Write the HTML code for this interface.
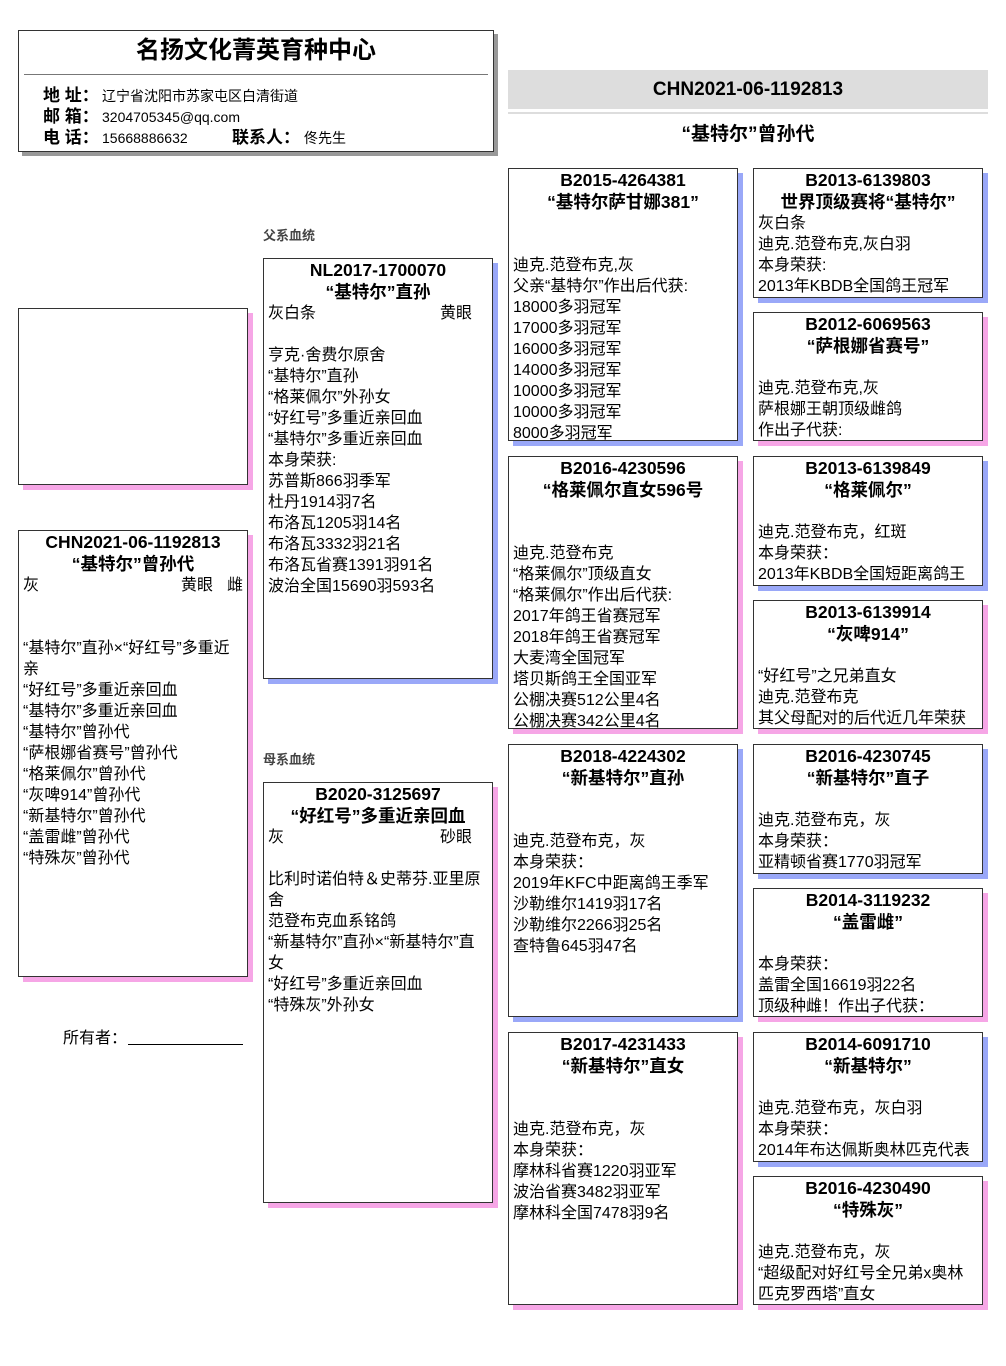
<!DOCTYPE html>
<html><head><meta charset="utf-8"><style>
*{margin:0;padding:0;box-sizing:border-box}
body{width:1006px;height:1366px;background:#fff;position:relative;font-family:"Liberation Sans","Noto Sans CJK SC",sans-serif;color:#000;overflow:hidden}
.a{position:absolute}
.box{position:absolute;border:1px solid #333;background:#fff;padding:0 4px;overflow:hidden}
.b{box-shadow:5px 5px 0 #9aa8f8}
.p{box-shadow:5px 5px 0 #f6a6e6}
.t{font-weight:bold;font-size:17.5px;line-height:22px;text-align:center;white-space:nowrap}
.l{font-size:16px;line-height:21px;white-space:nowrap;height:21px}
.sp{display:flex;justify-content:space-between}
.lbl{font-size:13px;font-weight:bold;color:#444}
</style></head><body>

<div class="a" style="left:18px;top:30px;width:476px;height:122px;border:1px solid #333;box-shadow:4px 4px 0 #999;background:#fff">
 <div style="text-align:center;font-weight:bold;font-size:24px;line-height:40px;">名扬文化菁英育种中心</div>
 <div class="a" style="left:5px;top:43px;width:464px;height:1px;background:#777"></div>
 <div class="a" style="left:24px;top:54px;font-size:17px;line-height:21px;font-weight:bold">地 址：<br>邮 箱：<br>电 话：</div>
 <div class="a" style="left:83px;top:55px;font-size:14px;line-height:21px">辽宁省沈阳市苏家屯区白清街道<br>3204705345@qq.com<br>15668886632</div>
 <div class="a" style="left:213px;top:96px;font-size:17px;line-height:21px;font-weight:bold">联系人：</div>
 <div class="a" style="left:285px;top:97px;font-size:14px;line-height:21px">佟先生</div>
</div>

<div class="a" style="left:508px;top:70px;width:480px;height:39px;background:#ddd;text-align:center;font-weight:bold;font-size:19px;line-height:40px">CHN2021-06-1192813</div>
<div class="a" style="left:508px;top:112px;width:480px;height:2px;background:#ddd"></div>
<div class="a" style="left:508px;top:122px;width:480px;text-align:center;font-weight:bold;font-size:19px;line-height:26px">“基特尔”曾孙代</div>

<div class="a lbl" style="left:263px;top:225px">父系血统</div>
<div class="a lbl" style="left:263px;top:749px">母系血统</div>

<div class="box p" style="left:18px;top:308px;width:230px;height:177px"></div>

<div class="box p" style="left:18px;top:530px;width:230px;height:447px">
 <div class="t">CHN2021-06-1192813</div><div class="t">“基特尔”曾孙代</div>
 <div class="l" style="display:flex"><span style="flex:1">灰</span><span>黄眼</span><span style="margin-left:14px">雌</span></div>
 <div class="l"></div><div class="l"></div>
 <div class="l">“基特尔”直孙×“好红号”多重近</div><div class="l">亲</div>
 <div class="l">“好红号”多重近亲回血</div><div class="l">“基特尔”多重近亲回血</div>
 <div class="l">“基特尔”曾孙代</div><div class="l">“萨根娜省赛号”曾孙代</div>
 <div class="l">“格莱佩尔”曾孙代</div><div class="l">“灰啤914”曾孙代</div>
 <div class="l">“新基特尔”曾孙代</div><div class="l">“盖雷雌”曾孙代</div><div class="l">“特殊灰”曾孙代</div>
</div>

<div class="a" style="left:63px;top:1028px;font-size:16px;line-height:21px">所有者：</div>
<div class="a" style="left:128px;top:1044px;width:115px;height:1px;background:#000"></div>

<div class="box b" style="left:263px;top:258px;width:230px;height:421px">
 <div class="t">NL2017-1700070</div><div class="t">“基特尔”直孙</div>
 <div class="l sp" style="padding-right:16px"><span>灰白条</span><span>黄眼</span></div>
 <div class="l"></div>
 <div class="l">亨克·舍费尔原舍</div><div class="l">“基特尔”直孙</div><div class="l">“格莱佩尔”外孙女</div>
 <div class="l">“好红号”多重近亲回血</div><div class="l">“基特尔”多重近亲回血</div><div class="l">本身荣获:</div>
 <div class="l">苏普斯866羽季军</div><div class="l">杜丹1914羽7名</div><div class="l">布洛瓦1205羽14名</div>
 <div class="l">布洛瓦3332羽21名</div><div class="l">布洛瓦省赛1391羽91名</div><div class="l">波治全国15690羽593名</div>
</div>

<div class="box p" style="left:263px;top:782px;width:230px;height:421px">
 <div class="t">B2020-3125697</div><div class="t">“好红号”多重近亲回血</div>
 <div class="l sp" style="padding-right:16px"><span>灰</span><span>砂眼</span></div>
 <div class="l"></div>
 <div class="l">比利时诺伯特＆史蒂芬.亚里原</div><div class="l">舍</div><div class="l">范登布克血系铭鸽</div>
 <div class="l">“新基特尔”直孙×“新基特尔”直</div><div class="l">女</div>
 <div class="l">“好红号”多重近亲回血</div><div class="l">“特殊灰”外孙女</div>
</div>

<div class="box b" style="left:508px;top:168px;width:230px;height:273px">
 <div class="t">B2015-4264381</div><div class="t">“基特尔萨甘娜381”</div>
 <div class="l"></div><div class="l"></div>
 <div class="l">迪克.范登布克,灰</div><div class="l">父亲“基特尔”作出后代获:</div>
 <div class="l">18000多羽冠军</div><div class="l">17000多羽冠军</div><div class="l">16000多羽冠军</div>
 <div class="l">14000多羽冠军</div><div class="l">10000多羽冠军</div><div class="l">10000多羽冠军</div><div class="l">8000多羽冠军</div>
</div>
<div class="box p" style="left:508px;top:456px;width:230px;height:273px">
 <div class="t">B2016-4230596</div><div class="t">“格莱佩尔直女596号</div>
 <div class="l"></div><div class="l"></div>
 <div class="l">迪克.范登布克</div><div class="l">“格莱佩尔”顶级直女</div><div class="l">“格莱佩尔”作出后代获:</div>
 <div class="l">2017年鸽王省赛冠军</div><div class="l">2018年鸽王省赛冠军</div><div class="l">大麦湾全国冠军</div>
 <div class="l">塔贝斯鸽王全国亚军</div><div class="l">公棚决赛512公里4名</div><div class="l">公棚决赛342公里4名</div>
</div>
<div class="box b" style="left:508px;top:744px;width:230px;height:273px">
 <div class="t">B2018-4224302</div><div class="t">“新基特尔”直孙</div>
 <div class="l"></div><div class="l"></div>
 <div class="l">迪克.范登布克，灰</div><div class="l">本身荣获：</div><div class="l">2019年KFC中距离鸽王季军</div>
 <div class="l">沙勒维尔1419羽17名</div><div class="l">沙勒维尔2266羽25名</div><div class="l">查特鲁645羽47名</div>
</div>
<div class="box p" style="left:508px;top:1032px;width:230px;height:273px">
 <div class="t">B2017-4231433</div><div class="t">“新基特尔”直女</div>
 <div class="l"></div><div class="l"></div>
 <div class="l">迪克.范登布克，灰</div><div class="l">本身荣获：</div><div class="l">摩林科省赛1220羽亚军</div>
 <div class="l">波治省赛3482羽亚军</div><div class="l">摩林科全国7478羽9名</div>
</div>

<div class="box b" style="left:753px;top:168px;width:230px;height:130px">
 <div class="t">B2013-6139803</div><div class="t">世界顶级赛将“基特尔”</div>
 <div class="l">灰白条</div><div class="l">迪克.范登布克,灰白羽</div><div class="l">本身荣获:</div><div class="l">2013年KBDB全国鸽王冠军</div>
</div>
<div class="box p" style="left:753px;top:312px;width:230px;height:129px">
 <div class="t">B2012-6069563</div><div class="t">“萨根娜省赛号”</div><div class="l"></div>
 <div class="l">迪克.范登布克,灰</div><div class="l">萨根娜王朝顶级雌鸽</div><div class="l">作出子代获:</div>
</div>
<div class="box b" style="left:753px;top:456px;width:230px;height:130px">
 <div class="t">B2013-6139849</div><div class="t">“格莱佩尔”</div><div class="l"></div>
 <div class="l">迪克.范登布克，红斑</div><div class="l">本身荣获：</div><div class="l">2013年KBDB全国短距离鸽王</div>
</div>
<div class="box p" style="left:753px;top:600px;width:230px;height:129px">
 <div class="t">B2013-6139914</div><div class="t">“灰啤914”</div><div class="l"></div>
 <div class="l">“好红号”之兄弟直女</div><div class="l">迪克.范登布克</div><div class="l">其父母配对的后代近几年荣获</div>
</div>
<div class="box b" style="left:753px;top:744px;width:230px;height:130px">
 <div class="t">B2016-4230745</div><div class="t">“新基特尔”直子</div><div class="l"></div>
 <div class="l">迪克.范登布克，灰</div><div class="l">本身荣获：</div><div class="l">亚精顿省赛1770羽冠军</div>
</div>
<div class="box p" style="left:753px;top:888px;width:230px;height:129px">
 <div class="t">B2014-3119232</div><div class="t">“盖雷雌”</div><div class="l"></div>
 <div class="l">本身荣获：</div><div class="l">盖雷全国16619羽22名</div><div class="l">顶级种雌！作出子代获：</div>
</div>
<div class="box b" style="left:753px;top:1032px;width:230px;height:130px">
 <div class="t">B2014-6091710</div><div class="t">“新基特尔”</div><div class="l"></div>
 <div class="l">迪克.范登布克，灰白羽</div><div class="l">本身荣获：</div><div class="l">2014年布达佩斯奥林匹克代表</div>
</div>
<div class="box p" style="left:753px;top:1176px;width:230px;height:129px">
 <div class="t">B2016-4230490</div><div class="t">“特殊灰”</div><div class="l"></div>
 <div class="l">迪克.范登布克，灰</div><div class="l">“超级配对好红号全兄弟x奥林</div><div class="l">匹克罗西塔”直女</div>
</div>
</body></html>
